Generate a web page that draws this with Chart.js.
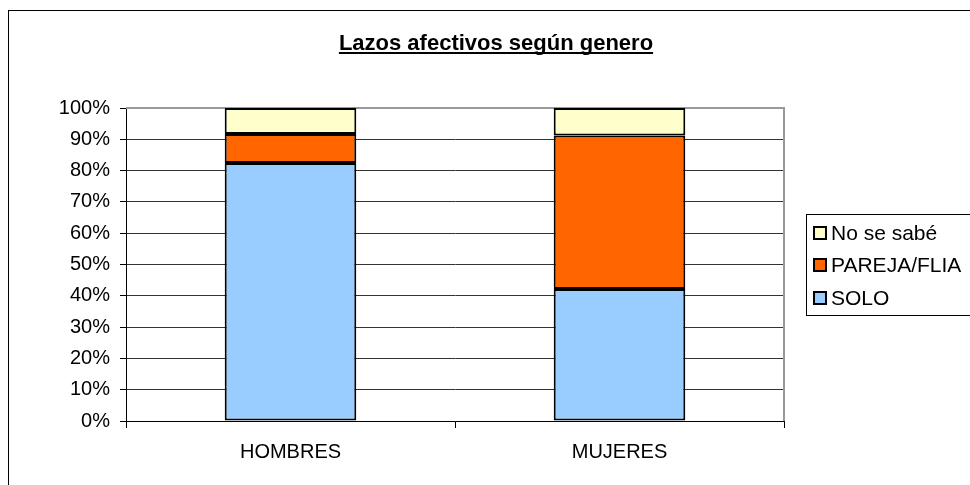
<!DOCTYPE html>
<html>
<head>
<meta charset="utf-8">
<script src="https://cdn.jsdelivr.net/npm/chart.js@4/dist/chart.umd.min.js"></script>
<style>
html,body{margin:0;padding:0;background:#fff;}
#wrap{width:970px;height:485px;position:relative;}
</style>
</head>
<body>
<div id="wrap"><canvas id="c" width="970" height="485"></canvas></div>
<script>
const titleText = 'Lazos afectivos según genero';
const categories = ['HOMBRES', 'MUJERES'];
const soloValues = [82.4, 42.2];
const parejaValues = [9.3, 49.0];
const noSabeValues = [8.3, 8.8];
const yTickValues = [0,10,20,30,40,50,60,70,80,90,100];

const FONT = '"Liberation Sans", Arial, sans-serif';

const frame = {
  id: 'frame',
  beforeDraw(chart) {
    const ctx = chart.ctx;
    ctx.save();
    ctx.fillStyle = '#fff';
    ctx.fillRect(0, 0, chart.width, chart.height);
    ctx.strokeStyle = '#000';
    ctx.lineWidth = 1;
    ctx.strokeRect(8.5, 10.5, chart.width + 20, chart.height + 20);
    // title
    ctx.font = 'bold 22px ' + FONT;
    ctx.fillStyle = '#000';
    ctx.textAlign = 'center';
    ctx.textBaseline = 'alphabetic';
    const cx = 496;
    ctx.fillText(titleText, cx, 50);
    const w = ctx.measureText(titleText).width;
    ctx.fillRect(cx - w / 2, 52, w, 2);
    ctx.restore();
  },
  beforeDatasetsDraw(chart) {
    const a = chart.chartArea, ctx = chart.ctx;
    ctx.save();
    ctx.strokeStyle = '#999';
    ctx.lineWidth = 2;
    ctx.beginPath();
    ctx.moveTo(a.left, a.top);
    ctx.lineTo(a.right, a.top);
    ctx.lineTo(a.right, a.bottom);
    ctx.stroke();
    ctx.restore();
  },
  afterDraw(chart) {
    const ctx = chart.ctx;
    ctx.save();
    ctx.strokeStyle = '#000';
    ctx.lineWidth = 1;
    ctx.strokeRect(806.5, 214.5, 200, 101);
    ctx.font = '21px ' + FONT;
    ctx.textAlign = 'left';
    ctx.textBaseline = 'middle';
    const ds = chart.data.datasets.slice().reverse();
    const ys = [233, 265, 298];
    ds.forEach((d, i) => {
      const y = ys[i];
      ctx.fillStyle = d.backgroundColor;
      ctx.fillRect(814, y - 6, 12, 12);
      ctx.lineWidth = 2;
      ctx.strokeStyle = '#000';
      ctx.strokeRect(814, y - 6, 12, 12);
      ctx.fillStyle = '#000';
      ctx.fillText(d.label, 831, y + 1);
    });
    ctx.restore();
  }
};

new Chart(document.getElementById('c'), {
  type: 'bar',
  data: {
    labels: categories,
    datasets: [
      { label: 'SOLO', data: soloValues, backgroundColor: '#99ccff', borderColor: '#000', borderWidth: 2, borderSkipped: false },
      { label: 'PAREJA/FLIA', data: parejaValues, backgroundColor: '#ff6600', borderColor: '#000', borderWidth: 2, borderSkipped: false },
      { label: 'No se sabé', data: noSabeValues, backgroundColor: '#ffffcc', borderColor: '#000', borderWidth: 2, borderSkipped: false }
    ]
  },
  options: {
    responsive: false,
    animation: false,
    events: [],
    layout: { padding: { left: 0, right: 186, top: 108, bottom: 0 } },
    datasets: { bar: { barPercentage: 0.4, categoryPercentage: 1.0 } },
    plugins: { legend: { display: false }, title: { display: false }, tooltip: { enabled: false } },
    scales: {
      x: {
        stacked: true,
        offset: true,
        grid: { offset: true, drawOnChartArea: false, drawTicks: true, tickLength: 7, color: '#000' },
        border: { color: '#000', width: 1 },
        ticks: { color: '#000', font: { family: FONT, size: 20 }, padding: 12 },
        afterFit(s) { s.height = 64; }
      },
      y: {
        stacked: true,
        min: 0, max: 100,
        afterBuildTicks(s) { s.ticks = yTickValues.map(v => ({ value: v })); },
        grid: { color: '#333', tickLength: 6, tickColor: '#000' },
        border: { color: '#000', width: 1 },
        ticks: { color: '#000', font: { family: FONT, size: 20 }, padding: 10, callback: v => v + '%' },
        afterFit(s) { s.width = 126; }
      }
    }
  },
  plugins: [frame]
});
</script>
</body>
</html>
